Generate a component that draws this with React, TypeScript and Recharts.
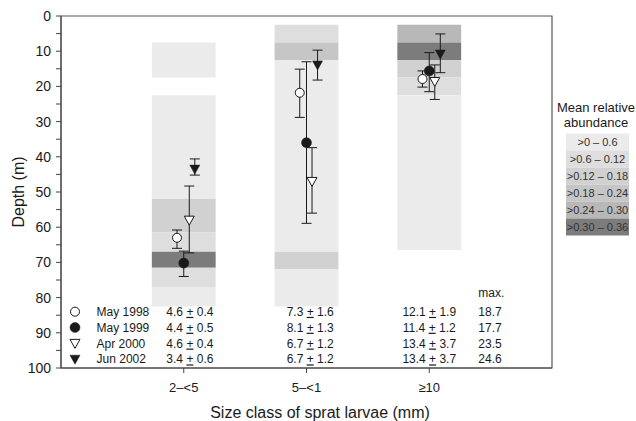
import React from 'react';
import { ComposedChart, Scatter, XAxis, YAxis, ErrorBar, ReferenceArea } from 'recharts';

// ---------- data ----------
const categories = ['2–<5', '5–<1', '≥10'];
const years = ['May 1998', 'May 1999', 'Apr 2000', 'Jun 2002'];

// mean depth (m) of each size class, per survey
const meanDepth1998 = [63, 21.8, 17.9];
const meanDepth1999 = [70.2, 36, 15.6];
const meanDepth2000 = [58, 47, 18.6];
const meanDepth2002 = [43.5, 13.9, 10.8];
// error bar ends (upper / lower depth)
const lowDepth1998 = [60.8, 15.1, 15.6];
const highDepth1998 = [66, 28.8, 20.2];
const lowDepth1999 = [66.8, 13, 10.4];
const highDepth1999 = [74, 58.9, 21.5];
const lowDepth2000 = [48.3, 37.4, 13.9];
const highDepth2000 = [67.3, 56, 23.7];
const lowDepth2002 = [40.6, 9.7, 5.1];
const highDepth2002 = [45.2, 18.2, 16.1];

// larval length table (mean ± sd per size class, and max.)
const lengthMean1998 = [4.6, 7.3, 12.1];
const lengthSd1998 = [0.4, 1.6, 1.9];
const lengthMean1999 = [4.4, 8.1, 11.4];
const lengthSd1999 = [0.5, 1.3, 1.2];
const lengthMean2000 = [4.6, 6.7, 13.4];
const lengthSd2000 = [0.4, 1.2, 3.7];
const lengthMean2002 = [3.4, 6.7, 13.4];
const lengthSd2002 = [0.6, 1.2, 3.7];
const maxLength = [18.7, 17.7, 23.5, 24.6];

// abundance classes
const legendLabels = ['>0 – 0.6', '>0.6 – 0.12', '>0.12 – 0.18', '>0.18 – 0.24', '>0.24 – 0.30', '>0.30 – 0.36'];

// depth bands: [from, to, abundance class index]
const bandsSmall = [[7.5, 17.5, 0], [22.5, 52, 0], [52, 61.5, 2], [61.5, 67, 1], [67, 71.5, 5], [71.5, 77, 1], [77, 82.5, 0]];
const bandsMedium = [[2.5, 7.5, 1], [7.5, 12.5, 3], [12.5, 67, 0], [67, 72, 2], [72, 82.5, 0]];
const bandsLarge = [[2.5, 7.5, 4], [7.5, 12.5, 5], [12.5, 17.5, 2], [17.5, 22.5, 1], [22.5, 66.5, 0]];

// ---------- styles / layout ----------
const levelColors = ['#ebebeb', '#dedede', '#d1d1d1', '#c6c6c6', '#b8b8b8', '#7c7c7c'];
const yearOffsets = [-0.055, 0, 0.045, 0.09];
const bandHalfWidth = 0.26;
const tableRowDepth = [84, 88.5, 93, 97.5];
const tableMarkerX = 0.114;
const tableNameX = 0.29;
const tableColX = [1.05, 2.03, 3.0];
const tableMaxX = 3.4;
const FONT = 'Arial, "Liberation Sans", Helvetica, sans-serif';
const INK = '#1a1a1a';
const AXIS = '#444';

const meanDepths = [meanDepth1998, meanDepth1999, meanDepth2000, meanDepth2002];
const lowDepths = [lowDepth1998, lowDepth1999, lowDepth2000, lowDepth2002];
const highDepths = [highDepth1998, highDepth1999, highDepth2000, highDepth2002];
const lengthMeans = [lengthMean1998, lengthMean1999, lengthMean2000, lengthMean2002];
const lengthSds = [lengthSd1998, lengthSd1999, lengthSd2000, lengthSd2002];
const bandSets = [bandsSmall, bandsMedium, bandsLarge];

function drawMarker(kind: number, cx: number, cy: number) {
  if (cx == null || cy == null) return <g />;
  if (kind === 0) return <circle cx={cx} cy={cy} r={4.5} fill="#fff" stroke={INK} strokeWidth={1} />;
  if (kind === 1) return <circle cx={cx} cy={cy} r={5} fill={INK} stroke={INK} strokeWidth={0.5} />;
  const pts = `${cx - 5},${cy - 4} ${cx + 5},${cy - 4} ${cx},${cy + 5}`;
  if (kind === 2) return <polygon points={pts} fill="#fff" stroke={INK} strokeWidth={1} />;
  return <polygon points={pts} fill={INK} stroke={INK} strokeWidth={0.5} />;
}

const seriesData = years.map((_, y) =>
  categories.map((_, i) => ({
    x: i + 1 + yearOffsets[y],
    depth: meanDepths[y][i],
    err: [meanDepths[y][i] - lowDepths[y][i], highDepths[y][i] - meanDepths[y][i]],
  }))
);

const markerRows = years.map((_, y) => ({ x: tableMarkerX, depth: tableRowDepth[y], kind: y }));

type Cell = { x: number; depth: number; kind: string; text?: string; mean?: number; sd?: number };
const tableCells: Cell[] = [];
years.forEach((name, y) => {
  tableCells.push({ x: tableNameX, depth: tableRowDepth[y], kind: 'name', text: name });
  categories.forEach((_, i) => {
    tableCells.push({ x: tableColX[i], depth: tableRowDepth[y], kind: 'val', mean: lengthMeans[y][i], sd: lengthSds[y][i] });
  });
  tableCells.push({ x: tableMaxX, depth: tableRowDepth[y], kind: 'max', text: maxLength[y].toFixed(1) });
});
tableCells.push({ x: tableMaxX, depth: 78.7, kind: 'max', text: 'max.' });

function TextCell(props: any) {
  const { cx, cy, payload } = props;
  if (cx == null || cy == null) return <g />;
  const common = { fontFamily: FONT, fontSize: 12, fill: INK, dy: '0.35em' } as any;
  if (payload.kind === 'val') {
    return (
      <text x={cx} y={cy} textAnchor="middle" {...common}>
        <tspan>{payload.mean.toFixed(1)} </tspan>
        <tspan textDecoration="underline">+</tspan>
        <tspan> {payload.sd.toFixed(1)}</tspan>
      </text>
    );
  }
  return (
    <text x={cx} y={cy} textAnchor="start" {...common}>
      {payload.text}
    </text>
  );
}

const yTicks = Array.from({ length: 21 }, (_, i) => i * 5);

export default function App() {
  return (
    <div style={{ position: 'absolute', left: 0, top: 0, width: 636, height: 421, background: '#fff', fontFamily: FONT }}>
      <ComposedChart width={636} height={421} margin={{ top: 16, right: 84, bottom: 23, left: 0 }}>
        <XAxis
          type="number"
          dataKey="x"
          domain={[0, 4]}
          ticks={[1, 2, 3]}
          tickFormatter={(v: number) => categories[v - 1] ?? ''}
          allowDataOverflow
          height={30}
          tickSize={5}
          tickMargin={10}
          stroke={AXIS}
          tick={{ fill: INK, fontSize: 13, fontFamily: FONT }}
        />
        <YAxis
          type="number"
          dataKey="depth"
          reversed
          domain={[0, 100]}
          ticks={yTicks}
          interval={0}
          tickFormatter={(v: number) => (v % 10 === 0 ? String(v) : '')}
          allowDataOverflow
          width={61}
          tickSize={5}
          tickMargin={5}
          stroke={AXIS}
          tick={{ fill: INK, fontSize: 14, fontFamily: FONT }}
        />
        {bandSets.map((bands, c) =>
          bands.map((b, k) => (
            <ReferenceArea
              key={`b${c}-${k}`}
              x1={c + 1 - bandHalfWidth}
              x2={c + 1 + bandHalfWidth}
              y1={b[0]}
              y2={b[1]}
              fill={levelColors[b[2]]}
              fillOpacity={1}
              stroke="none"
            />
          ))
        )}
        <ReferenceArea x1={0} x2={4} y1={0} y2={100} fill="none" fillOpacity={0} stroke="#555" strokeWidth={1.2} />
        {seriesData.map((data, y) => (
          <Scatter
            key={years[y]}
            name={years[y]}
            data={data}
            isAnimationActive={false}
            shape={(p: any) => drawMarker(y, p.cx, p.cy)}
          >
            <ErrorBar dataKey="err" direction="y" width={5} stroke={INK} strokeWidth={1} />
          </Scatter>
        ))}
        <Scatter
          data={markerRows}
          isAnimationActive={false}
          shape={(p: any) => drawMarker(p.payload.kind, p.cx, p.cy)}
        />
        <Scatter data={tableCells} isAnimationActive={false} shape={(p: any) => <TextCell {...p} />} />
      </ComposedChart>
      <svg width={636} height={421} style={{ position: 'absolute', left: 0, top: 0, pointerEvents: 'none' }}>
        <text x={18} y={192} transform="rotate(-90 18 192)" textAnchor="middle" dominantBaseline="central" fontFamily={FONT} fontSize={16} fill={INK}>
          Depth (m)
        </text>
        <text x={320} y={412} textAnchor="middle" dominantBaseline="central" fontFamily={FONT} fontSize={16} fill={INK}>
          Size class of sprat larvae (mm)
        </text>
        <text x={596} y={107} textAnchor="middle" dominantBaseline="central" fontFamily={FONT} fontSize={13} fill={INK}>
          Mean relative
        </text>
        <text x={596} y={122} textAnchor="middle" dominantBaseline="central" fontFamily={FONT} fontSize={13} fill={INK}>
          abundance
        </text>
        {legendLabels.map((lab, i) => (
          <g key={lab}>
            <rect x={566} y={133.5 + i * 17} width={63} height={17} fill={levelColors[i]} />
            <text x={597.5} y={142 + i * 17} textAnchor="middle" dominantBaseline="central" fontFamily={FONT} fontSize={11} fill="#333">
              {lab}
            </text>
          </g>
        ))}
      </svg>
    </div>
  );
}
